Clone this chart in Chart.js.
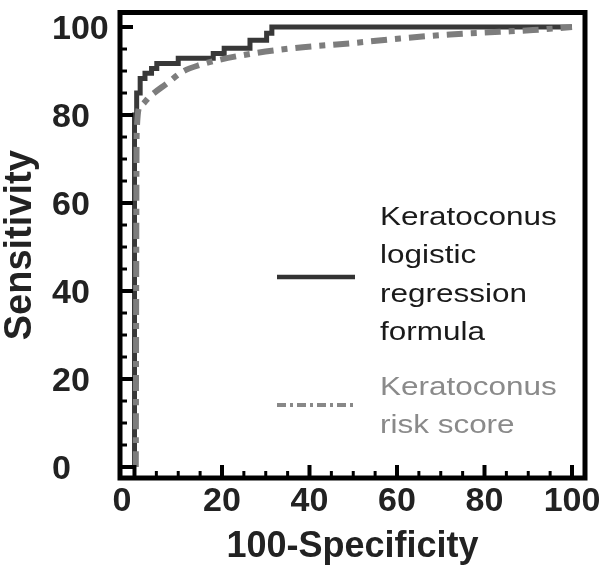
<!DOCTYPE html>
<html>
<head>
<meta charset="utf-8">
<script src="https://cdn.jsdelivr.net/npm/chart.js@4.4.1/dist/chart.umd.min.js"></script>
<style>
  html, body { margin: 0; padding: 0; background: #fff; }
</style>
</head>
<body>
<canvas id="roc" width="604" height="569"></canvas>
<script>
// logistic regression formula, stepped ROC: [100-specificity, sensitivity]
const formulaFpr  = [0, 0, 0.5, 1.3, 2.4, 3.9, 5.1, 10, 18, 20.5, 26.4, 30.2, 31.4, 100];
const formulaSens = [0, 80, 85, 88.3, 89.5, 90.6, 91.7, 92.9, 94, 95.2, 97, 98.6, 100, 100];

// risk score, smooth ROC
const riskFpr  = [0.3, 0.5, 1.3, 3.5, 7.6, 10.9, 15, 19.2, 27.2, 36.3, 49.3, 60.7, 72.1, 83.5, 91.1, 100];
const riskSens = [0, 76, 82, 84.2, 87.3, 89.8, 91.4, 92.5, 94, 95.2, 96.3, 97.4, 98.3, 98.9, 99.3, 100];

const xTicks = [0, 20, 40, 60, 80, 100];
const xTickLabels = ['0', '20', '40', '60', '80', '100'];
const yTicks = [0, 20, 40, 60, 80, 100];
const yTickLabels = ['0', '20', '40', '60', '80', '100'];
const minorStep = 5;

const legendFormula = ['Keratoconus', 'logistic', 'regression', 'formula'];
const legendRisk = ['Keratoconus', 'risk score'];

const FONT = "'Liberation Sans', Arial, sans-serif";

function toPoints(xs, ys) {
    return xs.map((x, i) => ({ x: x, y: ys[i] }));
}

function line(ctx, x1, y1, x2, y2) {
    ctx.beginPath();
    ctx.moveTo(x1, y1);
    ctx.lineTo(x2, y2);
    ctx.stroke();
}

// frame, inward ticks, tick labels and the legend
const framePlugin = {
    id: 'frame',
    afterDatasetsDraw(chart) {
        const { ctx, chartArea: a, scales: { x, y } } = chart;
        ctx.save();
        ctx.strokeStyle = '#000';
        ctx.lineWidth = 5;
        ctx.strokeRect(a.left, a.top, a.right - a.left, a.bottom - a.top);

        for (let v = 0; v <= 100; v += minorStep) {
            const major = v % 20 === 0;
            const len = major ? 13 : 7;
            ctx.lineWidth = major ? 4 : 3;
            const px = x.getPixelForValue(v);
            line(ctx, px, a.bottom, px, a.bottom - len);
            const py = y.getPixelForValue(v);
            line(ctx, a.left, py, a.left + len, py);
        }

        ctx.fillStyle = '#222';
        ctx.font = 'bold 34px ' + FONT;
        ctx.textBaseline = 'middle';
        ctx.textAlign = 'left';
        yTicks.forEach((v, i) => {
            ctx.fillText(yTickLabels[i], 52, y.getPixelForValue(v) + 2.5);
        });
        ctx.textAlign = 'center';
        xTicks.forEach((v, i) => {
            const px = v === 0 ? a.left + 2 : x.getPixelForValue(v);
            ctx.fillText(xTickLabels[i], px, 502);
        });

        // legend
        ctx.setLineDash([]);
        ctx.strokeStyle = '#333';
        ctx.lineWidth = 4.5;
        line(ctx, 277, 277, 355, 277);
        ctx.strokeStyle = '#888';
        ctx.lineWidth = 4;
        ctx.setLineDash([9, 4, 3, 4]);
        line(ctx, 277, 405, 355, 405);
        ctx.setLineDash([]);

        ctx.font = '26px ' + FONT;
        ctx.textAlign = 'left';
        ctx.textBaseline = 'alphabetic';
        const drawBlock = (lines, top, color) => {
            ctx.fillStyle = color;
            lines.forEach((t, i) => {
                ctx.save();
                ctx.translate(380, top + i * 38.3);
                ctx.scale(1.21, 1);
                ctx.fillText(t, 0, 0);
                ctx.restore();
            });
        };
        drawBlock(legendFormula, 225, '#1a1a1a');
        drawBlock(legendRisk, 395, '#8a8a8a');
        ctx.restore();
    }
};

const ctx = document.getElementById('roc').getContext('2d');
const chart = new Chart(ctx, {
    type: 'line',
    data: {
        datasets: [{
            label: 'Keratoconus logistic regression formula',
            data: toPoints(formulaFpr, formulaSens),
            borderColor: '#383838',
            borderWidth: 5,
            stepped: 'before',
            borderJoinStyle: 'miter',
            pointRadius: 0,
            fill: false,
            order: 2
        }, {
            label: 'Keratoconus risk score',
            data: toPoints(riskFpr, riskSens),
            borderColor: '#7d7d7d',
            borderWidth: 6,
            borderDash: [16, 8, 6, 8],
            cubicInterpolationMode: 'monotone',
            pointRadius: 0,
            fill: false,
            order: 1
        }]
    },
    options: {
        responsive: false,
        animation: false,
        layout: { padding: { top: 12.5, right: 19, bottom: 0, left: 0 } },
        plugins: {
            legend: { display: false },
            tooltip: { enabled: false }
        },
        scales: {
            x: {
                type: 'linear',
                min: -3.31,
                max: 102.97,
                grid: { display: false },
                border: { display: false },
                ticks: { display: false },
                title: {
                    display: true,
                    text: '100-Specificity',
                    color: '#222',
                    font: { family: FONT, size: 36, weight: 'bold', lineHeight: 1 },
                    padding: { top: 0, bottom: 4 }
                },
                afterFit(scale) { scale.height = 91; }
            },
            y: {
                type: 'linear',
                min: -2.5,
                max: 103.3,
                grid: { display: false },
                border: { display: false },
                ticks: { display: false },
                title: {
                    display: true,
                    text: 'Sensitivity',
                    color: '#222',
                    font: { family: FONT, size: 38, weight: 'bold', lineHeight: 1 },
                    padding: { top: 2, bottom: 0 }
                },
                afterFit(scale) { scale.width = 120; }
            }
        }
    },
    plugins: [framePlugin]
});
</script>
</body>
</html>
